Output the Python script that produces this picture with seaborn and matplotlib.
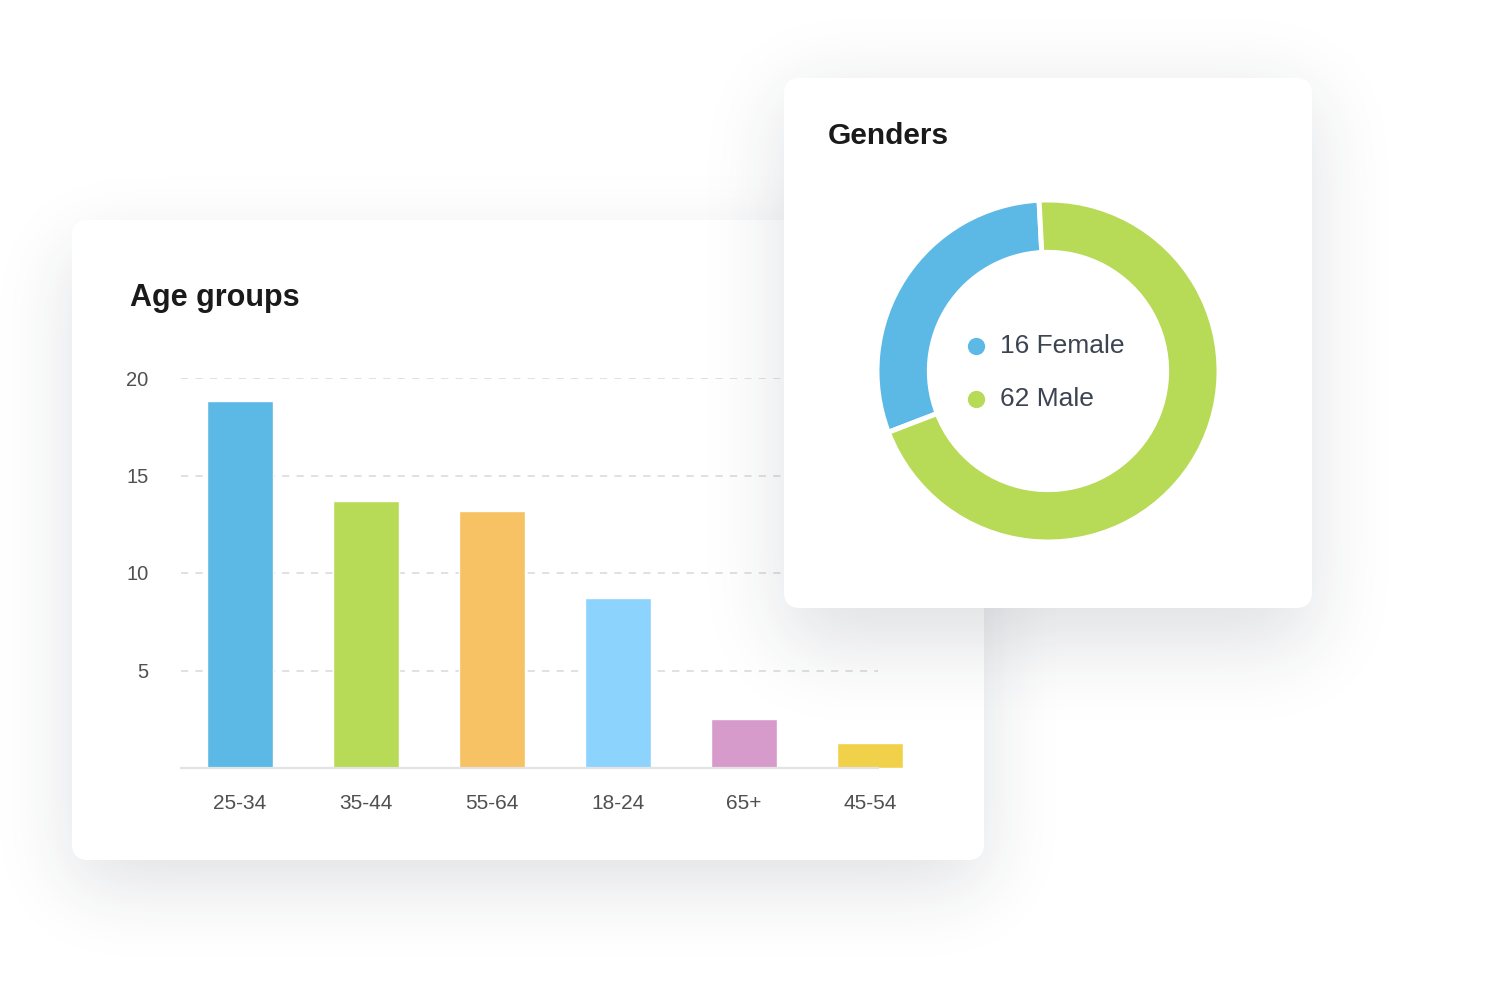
import math
import numpy as np
import matplotlib
matplotlib.use("Agg")
import matplotlib.pyplot as plt
from matplotlib.patches import FancyBboxPatch
import seaborn as sns

sns.set_style("white")
plt.rcParams['font.family'] = ['Liberation Sans', 'DejaVu Sans']

# data
age_groups = ["25-34", "35-44", "55-64", "18-24", "65+", "45-54"]
age_counts = [18.8, 13.7, 13.2, 8.7, 2.5, 1.3]
age_colors = ["#5cb9e5", "#b7da57", "#f7c264", "#8cd3fe", "#d79bcb", "#f1d14a"]
y_ticks = [5, 10, 15, 20]

gender_labels = ["16 Female", "62 Male"]
gender_share = [30, 70]   # arc sizes as drawn in the picture
gender_colors = ["#5cb9e5", "#b7da57"]

W, H = 1504, 1000
fig = plt.figure(figsize=(W / 100, H / 100), dpi=100)
fig.patch.set_facecolor("white")


def shadow(x0, x1, y0, y1, sigma, strength):
    erf = np.vectorize(math.erf)
    xs = np.arange(W) + 0.5
    ys = np.arange(H) + 0.5
    k = sigma * math.sqrt(2)
    fx = 0.5 * (erf((xs - x0) / k) - erf((xs - x1) / k))
    fy = 0.5 * (erf((ys - y0) / k) - erf((ys - y1) / k))
    a = np.outer(fy, fx) * strength
    img = np.zeros((H, W, 4))
    img[..., 0] = 0.12
    img[..., 1] = 0.16
    img[..., 2] = 0.24
    img[..., 3] = a
    return img


def card(ax, x, y, w, h):
    ax.add_patch(FancyBboxPatch((x, y), w, h, boxstyle="round,pad=0,rounding_size=16",
                                fc="white", ec="none"))


def layer(z):
    a = fig.add_axes([0, 0, 1, 1], zorder=z)
    a.set_xlim(0, W)
    a.set_ylim(H, 0)
    a.axis("off")
    a.patch.set_alpha(0)
    return a


# age groups card
bg = layer(0)
bg.imshow(shadow(72, 984, 250, 885, 38, 0.14), extent=(0, W, H, 0), aspect="auto")
card(bg, 72, 220, 912, 640)
bg.text(130, 306, "Age groups", fontsize=22, fontweight="bold", color="#1a1a1a",
        va="baseline", ha="left")

ax = fig.add_axes([181 / W, (H - 768) / H, 697 / W, 390 / H], zorder=1)
ax.patch.set_alpha(0)
sns.barplot(x=age_groups, y=age_counts, hue=age_groups, palette=age_colors,
            legend=False, width=0.524, saturation=1, ax=ax)
for p in ax.patches:
    p.set_clip_on(False)
ax.set_xlim(-59 / 126, -59 / 126 + 697 / 126)
ax.set_ylim(0, 20)
ax.set_yticks(y_ticks)
ax.set_yticklabels([str(t) for t in y_ticks])
ax.yaxis.grid(True, color="#dedede", linestyle=(0, (4, 4)), linewidth=1.3)
ax.xaxis.grid(False)
ax.set_axisbelow(True)
for s in ["top", "right", "left"]:
    ax.spines[s].set_visible(False)
ax.spines["bottom"].set_color("#e3e3e3")
ax.spines["bottom"].set_linewidth(1.6)
ax.tick_params(axis="y", length=0, pad=23.5, labelsize=14.5, labelcolor="#505050")
ax.tick_params(axis="x", length=0, pad=19, labelsize=15, labelcolor="#505050")
ax.set_xlabel("")
ax.set_ylabel("")

# genders card
top = layer(2)
top.imshow(shadow(784, 1312, 95, 645, 40, 0.14), extent=(0, W, H, 0), aspect="auto")
card(top, 784, 78, 528, 530)
top.text(828, 144, "Genders", fontsize=21.5, fontweight="bold", color="#1a1a1a",
         va="baseline", ha="left")

dx = fig.add_axes([879 / W, (H - 540) / H, 338 / W, 338 / H], zorder=3)
dx.pie(gender_share, colors=gender_colors, startangle=93, radius=1.012,
       wedgeprops=dict(width=0.31, edgecolor="white", linewidth=3.6))
dx.set_xlim(-1, 1)
dx.set_ylim(-1, 1)
dx.set_aspect("equal")
dx.axis("off")
for i, lab in enumerate(gender_labels):
    yy = [0.148, -0.166][i]
    dx.scatter([-0.426], [yy], s=130, color=gender_colors[i], zorder=5)
    dx.text(-0.284, yy, lab, fontsize=19, color="#3c4451", va="center", ha="left")

fig.savefig("out.png", dpi=100)
